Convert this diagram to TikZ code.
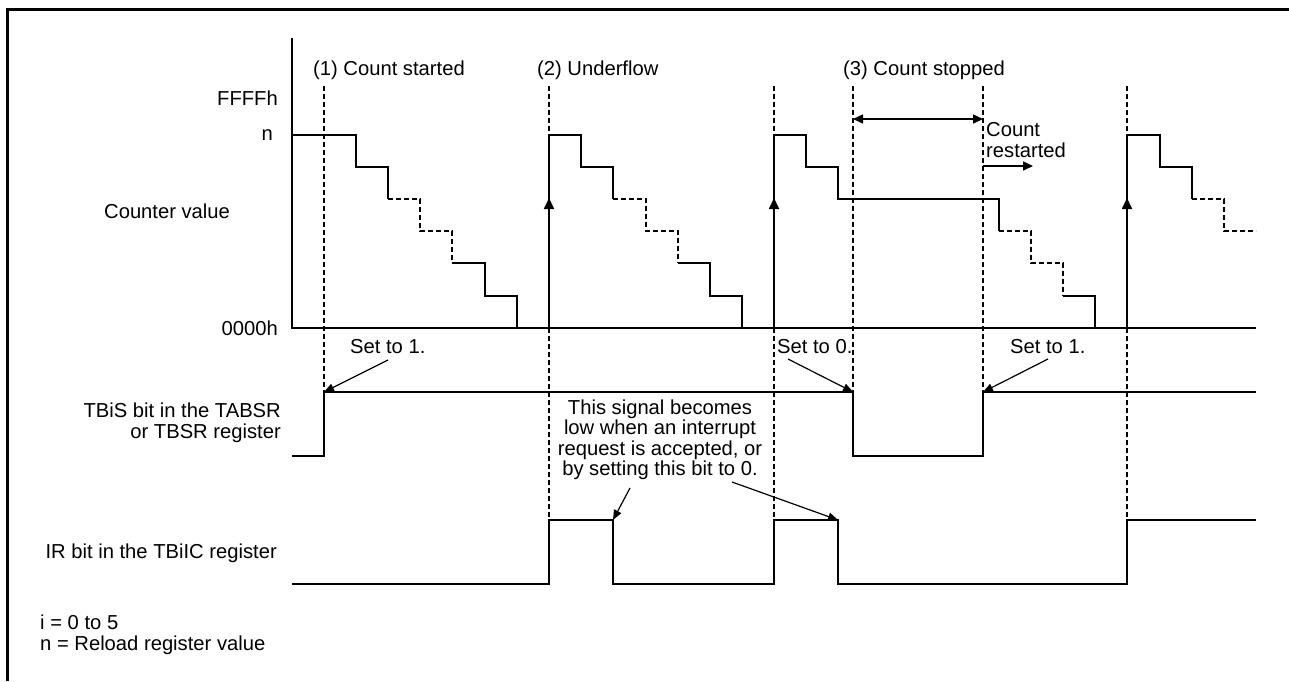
\documentclass[tikz,border=0pt]{standalone}
\usepackage{fontspec}
\setmainfont{Liberation Sans}
\usetikzlibrary{arrows.meta}
\begin{document}
\begin{tikzpicture}[x=1pt,y=-1pt,
  sig/.style={line width=1.6pt},
  dsig/.style={line width=2pt, dash pattern=on 5pt off 3pt},
  guide/.style={line width=2.2pt, dash pattern=on 5pt off 3pt},
  lbl/.style={inner sep=0pt, font=\fontsize{20.2}{20.5}\selectfont},
  uptip/.style={line width=1.8pt, -{Triangle[length=11pt,width=10pt]}},
  ann/.style={line width=1.2pt, -{Triangle[length=10pt,width=8pt]}},
  dimarr/.style={line width=1.5pt, {Triangle[length=10pt,width=9pt]}-{Triangle[length=10pt,width=9pt]}}
]
\useasboundingbox (0,0) rectangle (1289,681);
% frame
\draw[line width=3pt] (7,681) -- (7,9) -- (1289,9);

% axis
\draw[sig] (292,38) -- (292,328) -- (1256,328);

% guide lines
\draw[guide] (324,86) -- (324,392);
\draw[guide] (549,86) -- (549,135);
\draw[guide] (549,328) -- (549,520);
\draw[guide] (774,86) -- (774,135);
\draw[guide] (774,328) -- (774,520);
\draw[guide] (853,86) -- (853,392);
\draw[guide] (983,86) -- (983,392);
\draw[guide] (1127,86) -- (1127,135);
\draw[guide] (1127,328) -- (1127,520);

% counter value: first ramp
\draw[sig] (292,135)--(356,135)--(356,167)--(388,167)--(388,199);
\draw[dsig] (388,199)--(420,199)--(420,231)--(452,231)--(452,263);
\draw[sig] (452,263)--(485,263)--(485,296)--(517,296)--(517,328);
% second ramp
\draw[uptip] (549,328) -- (549,198);
\draw[sig] (549,200)--(549,135)--(581,135)--(581,167)--(613,167)--(613,199);
\draw[dsig] (613,199)--(646,199)--(646,231)--(678,231)--(678,263);
\draw[sig] (678,263)--(710,263)--(710,296)--(742,296)--(742,328);
% third ramp
\draw[uptip] (774,328) -- (774,198);
\draw[sig] (774,200)--(774,135)--(806,135)--(806,167)--(838,167)--(838,199)--(999,199)--(999,231);
\draw[dsig] (999,231)--(1031,231)--(1031,263)--(1063,263)--(1063,296);
\draw[sig] (1063,296)--(1095,296)--(1095,328);
% fourth ramp
\draw[uptip] (1127,328) -- (1127,198);
\draw[sig] (1127,200)--(1127,135)--(1160,135)--(1160,167)--(1192,167)--(1192,199);
\draw[dsig] (1192,199)--(1224,199)--(1224,231)--(1256,231);

% TBiS signal
\draw[sig] (292,456)--(324,456)--(324,392)--(853,392)--(853,456)--(983,456)--(983,392)--(1256,392);
% IR signal
\draw[sig] (292,584)--(549,584)--(549,520)--(613,520)--(613,584)--(774,584)--(774,520)--(838,520)--(838,584)--(1127,584)--(1127,520)--(1256,520);

% stop interval arrows
\coordinate (stopA) at (853,119);
\coordinate (stopB) at (983,119);
\draw[dimarr] (stopA) -- (stopB);
\coordinate (rsA) at (983,166);
\coordinate (rsB) at (1033,166);
\draw[line width=1.5pt, -{Triangle[length=10pt,width=9pt]}] (rsA) -- (rsB);

% labels
\node[lbl, anchor=west] (l1) at (313,70) {(1) Count started};
\node[lbl, anchor=west] (l2) at (537,70) {(2) Underflow};
\node[lbl, anchor=west] (l3) at (843,70) {(3) Count stopped};
\node[lbl, anchor=east] (ff) at (278,98) {FFFFh};
\node[lbl, anchor=east] (nn) at (273,135) {n};
\node[lbl, anchor=west] (cv) at (104,211) {Counter value};
\node[lbl, anchor=east] (zz) at (278,328) {0000h};
\node[lbl, anchor=west, align=left] (cr) at (986,140) {Count\\restarted};

\node[lbl, anchor=west] (s1) at (350,347) {Set to 1.};
\node[lbl, anchor=west] (s0) at (777,347) {Set to 0.};
\node[lbl, anchor=west] (s2) at (1010,347) {Set to 1.};
\coordinate (s1a) at (388,360); \coordinate (s1b) at (324,392);
\coordinate (s0a) at (788,359); \coordinate (s0b) at (853,392);
\coordinate (s2a) at (1048,359); \coordinate (s2b) at (983,392);
\draw[ann] (s1a) -- (s1b);
\draw[ann] (s0a) -- (s0b);
\draw[ann] (s2a) -- (s2b);

\node[lbl, anchor=east, align=right] (tbis) at (281,423) {TBiS bit in the TABSR\\or TBSR register};
\node[lbl, anchor=east] (ir) at (277,553) {IR bit in the TBiIC register};

\node[lbl, align=center] (note) at (660,440) {This signal becomes\\low when an interrupt\\request is accepted, or\\by setting this bit to 0.};
\coordinate (nA) at (630,488); \coordinate (nB) at (613,520);
\coordinate (nC) at (732,482); \coordinate (nD) at (838,520);
\draw[ann] (nA) -- (nB);
\draw[ann] (nC) -- (nD);

\node[lbl, anchor=west, align=left] (foot) at (40,635) {i = 0 to 5\\n = Reload register value};
\end{tikzpicture}
\end{document}
